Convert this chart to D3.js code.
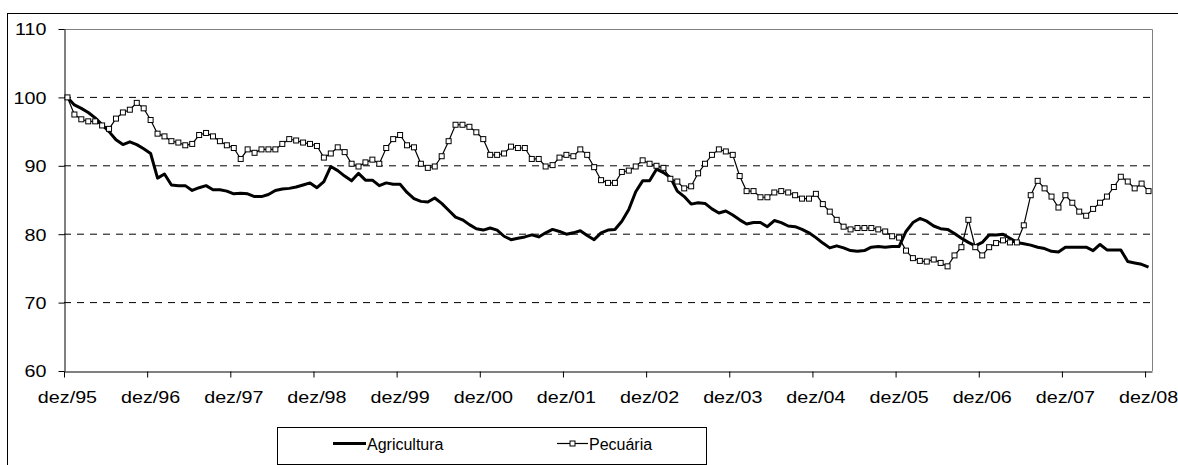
<!DOCTYPE html>
<html>
<head>
<meta charset="utf-8">
<script src="https://cdn.jsdelivr.net/npm/d3@7"></script>
<style>
  body { margin: 0; background: #fff; }
  text { font-family: "Liberation Sans", Arial, sans-serif; fill: #000; }
</style>
</head>
<body>
<div id="chart"></div>
<script>
// monthly index, dez/95 = 100
var monthNames = ["jan", "fev", "mar", "abr", "mai", "jun", "jul", "ago", "set", "out", "nov", "dez"];
var tickLabels = ["dez/95", "dez/96", "dez/97", "dez/98", "dez/99", "dez/00", "dez/01",
                  "dez/02", "dez/03", "dez/04", "dez/05", "dez/06", "dez/07", "dez/08"];
var yTicks = [60, 70, 80, 90, 100, 110];

var agricultura = [
  100, 98.9, 98.4, 97.8, 97.0, 96.0, 95.0, 93.8, 93.1, 93.5, 93.1, 92.5, 91.8,
  88.2, 88.8, 87.2, 87.1, 87.1, 86.4, 86.8, 87.1, 86.5, 86.5, 86.3, 85.9,
  86.0, 85.9, 85.5, 85.5, 85.8, 86.4, 86.6, 86.7, 86.9, 87.2, 87.5, 86.8,
  87.7, 89.9, 89.3, 88.5, 87.8, 88.9, 87.9, 87.9, 87.1, 87.5, 87.3, 87.3,
  86.1, 85.2, 84.8, 84.7, 85.3, 84.5, 83.5, 82.5, 82.1, 81.4, 80.8, 80.6,
  80.9, 80.6, 79.7, 79.2, 79.4, 79.6, 79.9, 79.6, 80.2, 80.7, 80.4, 80.0,
  80.2, 80.5, 79.8, 79.2, 80.2, 80.6, 80.7, 81.9, 83.6, 86.2, 87.8, 87.8,
  89.5, 89.0, 88.3, 86.3, 85.5, 84.4, 84.6, 84.5, 83.7, 83.1, 83.4, 82.8,
  82.1, 81.5, 81.7, 81.7, 81.1, 82.0, 81.7, 81.2, 81.1, 80.7, 80.2, 79.5,
  78.7, 78.0, 78.3, 78.0, 77.6, 77.5, 77.6, 78.1, 78.2, 78.1, 78.2, 78.2,
  80.4, 81.7, 82.3, 81.9, 81.2, 80.8, 80.7, 80.1, 79.4, 78.8, 78.3, 78.8,
  79.9, 79.9, 80.0, 79.4, 78.8, 78.6, 78.4, 78.1, 77.9, 77.5, 77.4, 78.1,
  78.1, 78.1, 78.1, 77.6, 78.5, 77.7, 77.7, 77.7, 76.0, 75.8, 75.6, 75.2
];

var pecuaria = [
  100, 97.5, 96.8, 96.5, 96.5, 95.9, 95.4, 96.9, 97.8, 98.2, 99.2, 98.4, 96.7,
  94.7, 94.3, 93.6, 93.4, 93.0, 93.2, 94.5, 94.8, 94.3, 93.6, 93.0, 92.6,
  91.0, 92.4, 91.9, 92.4, 92.4, 92.4, 93.2, 93.9, 93.7, 93.4, 93.2, 92.9,
  91.2, 91.8, 92.7, 92.0, 90.3, 89.9, 90.5, 90.9, 90.3, 92.6, 93.9, 94.5,
  93.0, 92.7, 90.3, 89.7, 89.9, 91.4, 93.6, 96.0, 96.0, 95.7, 94.9, 93.9,
  91.6, 91.6, 91.8, 92.8, 92.6, 92.6, 91.0, 91.0, 89.9, 90.1, 91.2, 91.6,
  91.4, 92.4, 91.6, 89.8, 87.9, 87.5, 87.5, 89.1, 89.3, 89.9, 90.8, 90.3,
  90.0, 89.7, 88.1, 87.7, 86.7, 87.0, 88.9, 90.3, 91.6, 92.4, 92.1, 91.6,
  88.5, 86.3, 86.3, 85.4, 85.4, 86.1, 86.3, 86.1, 85.7, 85.2, 85.2, 85.9,
  84.4, 83.3, 82.1, 81.1, 80.7, 80.9, 80.9, 80.9, 80.7, 80.4, 79.7, 79.5,
  77.6, 76.5, 76.1, 76.0, 76.3, 75.8, 75.3, 76.9, 78.1, 82.1, 78.1, 76.9,
  78.1, 78.7, 79.1, 78.8, 78.8, 81.3, 85.7, 87.8, 86.7, 85.5, 83.9, 85.7,
  84.6, 83.3, 82.7, 83.7, 84.6, 85.5, 86.9, 88.4, 87.7, 86.7, 87.4, 86.3
];

// category labels dez/95 ... dez/08
var categories = [];
for (var k = 0; k < agricultura.length; k++) {
    var m = (11 + k) % 12;
    var yr = (95 + Math.floor((11 + k) / 12)) % 100;
    categories.push(monthNames[m] + "/" + (yr < 10 ? "0" + yr : "" + yr));
}

var width = 1178, height = 465;
var plotLeft = 64, plotRight = 1152, plotTop = 29, plotBottom = 371;

var svg = d3.select("#chart").append("svg")
    .attr("width", width)
    .attr("height", height);

// outer chart frame
svg.append("rect")
    .attr("x", 7.5).attr("y", 13.5)
    .attr("width", 1200).attr("height", 500)
    .attr("fill", "#fff")
    .attr("stroke", "#000")
    .attr("stroke-width", 1);

var x = d3.scaleBand().domain(categories).range([plotLeft, plotRight]).padding(0);
var bw = x.bandwidth();
var cx = function(i) { return x(categories[i]) + bw / 2; };
var y = d3.scaleLinear().domain([60, 110]).range([plotBottom, plotTop]);

// plot area border (grey top / right)
svg.append("path")
    .attr("d", "M" + plotLeft + "," + (plotTop + 0.5) + "H" + (plotRight + 0.5) + "V" + plotBottom)
    .attr("fill", "none")
    .attr("stroke", "#808080")
    .attr("stroke-width", 1);

// dashed gridlines
svg.selectAll(".grid")
    .data(yTicks.filter(function(d) { return d > 60 && d < 110; }))
    .enter()
    .append("line")
    .attr("class", "grid")
    .attr("x1", plotLeft).attr("x2", plotRight)
    .attr("y1", d => y(d)).attr("y2", d => y(d))
    .attr("stroke", "#000")
    .attr("stroke-width", 1)
    .attr("stroke-dasharray", "7,6");

// y axis
var yAxis = svg.append("g")
    .attr("transform", "translate(" + (plotLeft + 0.5) + ",0)")
    .call(d3.axisLeft(y).tickValues(yTicks).tickSize(6).tickSizeOuter(0));
yAxis.select(".domain").attr("stroke", "#000");
yAxis.selectAll("text")
    .attr("x", -15.5)
    .attr("dy", "0.35em")
    .attr("transform", "scale(1.16,1)")
    .style("font-size", "17px")
    .style("font-family", "'Liberation Sans', Arial, sans-serif");

// x axis: ticks on category boundaries, labels on category centers
var tickCats = categories.filter(function(d, i) { return i % 12 === 0; });
var xAxis = svg.append("g")
    .attr("transform", "translate(0," + (plotBottom + 0.5) + ")")
    .call(d3.axisBottom(x).tickValues(tickCats).tickSize(6).tickSizeOuter(0)
        .tickFormat(function(d, i) { return tickLabels[i]; }));
xAxis.select(".domain").attr("stroke", "#000");
xAxis.selectAll(".tick line").attr("x1", -bw / 2 + 0.5).attr("x2", -bw / 2 + 0.5);
xAxis.selectAll("text")
    .attr("y", 32)
    .attr("dy", 0)
    .attr("transform", "scale(1.16,1)")
    .style("font-size", "17px")
    .style("font-family", "'Liberation Sans', Arial, sans-serif");

var line = d3.line()
    .x(function(d, i) { return cx(i); })
    .y(function(d) { return y(d); });

// Agricultura (thick line)
svg.append("path")
    .datum(agricultura)
    .attr("d", line)
    .attr("fill", "none")
    .attr("stroke", "#000")
    .attr("stroke-width", 3)
    .attr("stroke-linejoin", "round");

// Pecuária (thin line with square markers)
svg.append("path")
    .datum(pecuaria)
    .attr("d", line)
    .attr("fill", "none")
    .attr("stroke", "#000")
    .attr("stroke-width", 1.2);

svg.selectAll(".mk")
    .data(pecuaria)
    .enter()
    .append("rect")
    .attr("class", "mk")
    .attr("x", function(d, i) { return cx(i) - 2.5; })
    .attr("y", function(d) { return y(d) - 2.5; })
    .attr("width", 5).attr("height", 5)
    .attr("fill", "#fff")
    .attr("stroke", "#000")
    .attr("stroke-width", 1);

// legend
var lg = svg.append("g");
lg.append("rect")
    .attr("x", 277.5).attr("y", 427.5)
    .attr("width", 429).attr("height", 37)
    .attr("fill", "#fff")
    .attr("stroke", "#000");
lg.append("line")
    .attr("x1", 333).attr("x2", 366).attr("y1", 443.5).attr("y2", 443.5)
    .attr("stroke", "#000").attr("stroke-width", 3);
lg.append("text")
    .attr("x", 367).attr("y", 450)
    .style("font-size", "16px")
    .text("Agricultura");
lg.append("line")
    .attr("x1", 557).attr("x2", 588).attr("y1", 443.5).attr("y2", 443.5)
    .attr("stroke", "#000").attr("stroke-width", 1.2);
lg.append("rect")
    .attr("x", 570).attr("y", 441).attr("width", 5).attr("height", 5)
    .attr("fill", "#fff").attr("stroke", "#000");
lg.append("text")
    .attr("x", 589).attr("y", 450)
    .style("font-size", "16px")
    .text("Pecuária");
</script>
</body>
</html>
